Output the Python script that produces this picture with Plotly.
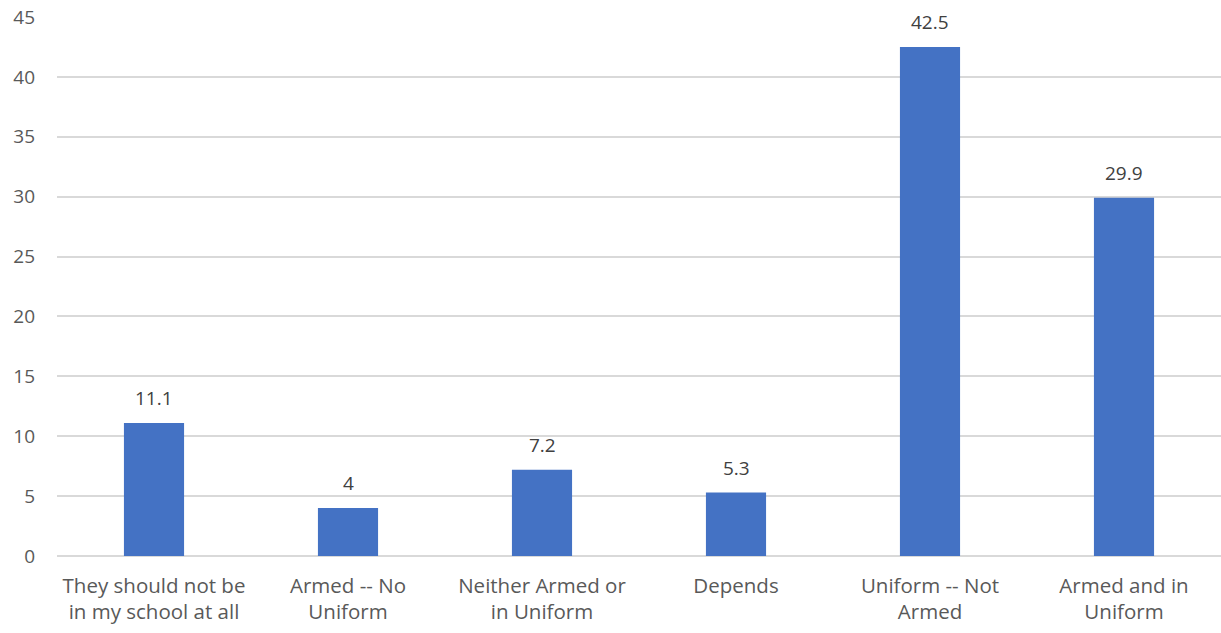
import plotly.graph_objects as go

categories = ["They should not be<br>in my school at all", "Armed -- No<br>Uniform",
              "Neither Armed or<br>in Uniform", "Depends", "Uniform -- Not<br>Armed",
              "Armed and in<br>Uniform"]
values = [11.1, 4, 7.2, 5.3, 42.5, 29.9]
value_labels = ["11.1", "4", "7.2", "5.3", "42.5", "29.9"]
tick_vals = [0, 5, 10, 15, 20, 25, 30, 35, 40, 45]

FONT = "Open Sans, Liberation Sans, sans-serif"

fig = go.Figure(go.Bar(
    x=categories, y=values,
    marker=dict(color="#4472C4", line=dict(width=0)),
    cliponaxis=False,
))
for c, v, t in zip(categories, values, value_labels):
    fig.add_annotation(x=c, y=v, text=t, showarrow=False, yanchor="middle", yshift=25,
                       font=dict(family=FONT, size=19, color="#404040"))
fig.update_layout(
    width=1221, height=633,
    margin=dict(l=57, r=0, t=17, b=77, autoexpand=False),
    plot_bgcolor="white", paper_bgcolor="white",
    bargap=0.69, showlegend=False,
    font=dict(family=FONT, size=19, color="#595959"),
)
fig.update_yaxes(range=[0, 45.0001], tickvals=tick_vals, showgrid=True, gridcolor="#D9D9D9",
                 gridwidth=1.5, zeroline=True, zerolinecolor="#D9D9D9", zerolinewidth=1.5,
                 ticks="", ticklabelstandoff=21, automargin=False, ticklabeloverflow="allow",
                 tickfont=dict(size=19, color="#595959"))
fig.update_xaxes(showgrid=False, ticks="", showline=False, automargin=False,
                 ticklabelstandoff=15,
                 tickfont=dict(size=20.5, color="#595959"))
fig.write_html("out.html", config={"displayModeBar": False},
               post_script="document.body.style.margin='0';")
